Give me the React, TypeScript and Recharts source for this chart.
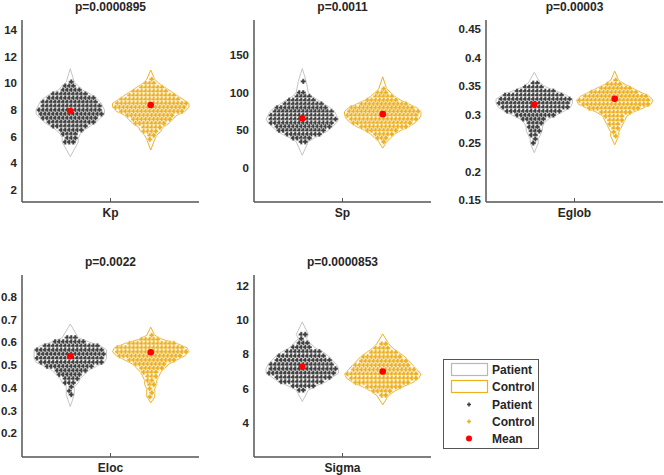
import React from "react";
import { ScatterChart, Scatter, XAxis, YAxis } from "recharts";

const FONT = '"Liberation Sans", Arial, Helvetica, sans-serif';
const PATIENT = "#404040";
const PATIENT_EDGE = "#c4c4c4";
const CONTROL = "#EDB120";
const MEAN = "#ff0000";
const AXIS = "#555555";
const TEXT = "#262626";

const panelNames = ["Kp", "Sp", "Eglob", "Eloc", "Sigma"];
const pValues = ["p=0.0000895", "p=0.0011", "p=0.00003", "p=0.0022", "p=0.0000853"];

const yDomains: [number, number][] = [
  [1.1, 14.75],
  [-45, 196.5],
  [0.1465, 0.4658],
  [0.096, 0.895],
  [2.0, 12.62],
];
const yTicks = [
  [2, 4, 6, 8, 10, 12, 14],
  [0, 50, 100, 150],
  [0.15, 0.2, 0.25, 0.3, 0.35, 0.4, 0.45],
  [0.2, 0.3, 0.4, 0.5, 0.6, 0.7, 0.8],
  [4, 6, 8, 10, 12],
];

const patientMeans = [7.93, 65.9, 0.3175, 0.539, 7.27];
const controlMeans = [8.38, 71.6, 0.3275, 0.556, 6.99];

// violin extent (kde tails) [low, high]
const patientRanges: [number, number][] = [
  [4.5, 11.1],
  [17, 132],
  [0.233, 0.374],
  [0.317, 0.68],
  [5.24, 9.88],
];
const controlRanges: [number, number][] = [
  [5.0, 11.0],
  [26.5, 121],
  [0.247, 0.376],
  [0.334, 0.666],
  [5.05, 9.18],
];

// swarm rows: [value, number of subjects at that level]
const kpPatient: [number, number][] = [
  [10.1, 1], [9.8, 3], [9.5, 5], [9.2, 9], [8.9, 12], [8.6, 14], [8.3, 15], [8.0, 16],
  [7.7, 16], [7.4, 14], [7.1, 12], [6.8, 9], [6.5, 6], [6.2, 4], [5.9, 3], [5.6, 3],
];
const kpControl: [number, number][] = [
  [10.3, 1], [10.0, 3], [9.7, 6], [9.4, 9], [9.1, 12], [8.8, 15], [8.5, 18], [8.2, 18],
  [7.9, 16], [7.6, 12], [7.3, 10], [7.0, 8], [6.7, 5], [6.4, 4], [6.1, 2], [5.8, 1],
];
const spPatient: [number, number][] = [
  [115, 1], [100, 2], [95, 4], [90, 7], [85, 10], [80, 13], [75, 15], [70, 16],
  [65, 17], [60, 16], [55, 14], [50, 12], [45, 9], [40, 5], [35, 2],
];
const spControl: [number, number][] = [
  [105, 1], [100, 3], [95, 5], [90, 8], [85, 12], [80, 16], [75, 18], [70, 18],
  [65, 17], [60, 15], [55, 12], [50, 8], [45, 5], [40, 3], [35, 1],
];
const eglobPatient: [number, number][] = [
  [0.355, 2], [0.348, 5], [0.341, 10], [0.334, 15], [0.327, 18], [0.32, 18], [0.313, 17],
  [0.306, 14], [0.299, 10], [0.292, 6], [0.285, 4], [0.278, 3], [0.271, 3], [0.264, 2],
  [0.257, 1], [0.25, 1],
];
const eglobControl: [number, number][] = [
  [0.36, 1], [0.353, 4], [0.346, 8], [0.339, 12], [0.332, 16], [0.325, 18], [0.318, 17],
  [0.311, 13], [0.304, 8], [0.297, 5], [0.29, 4], [0.283, 3], [0.276, 2], [0.269, 1],
  [0.262, 1],
];
const elocPatient: [number, number][] = [
  [0.62, 3], [0.602, 8], [0.584, 14], [0.566, 17], [0.548, 17], [0.53, 17], [0.512, 16],
  [0.494, 12], [0.476, 8], [0.458, 6], [0.44, 4], [0.422, 3], [0.404, 1], [0.386, 1],
  [0.37, 1],
];
const elocControl: [number, number][] = [
  [0.63, 1], [0.612, 5], [0.594, 12], [0.576, 17], [0.558, 18], [0.54, 16], [0.522, 12],
  [0.504, 8], [0.486, 6], [0.468, 4], [0.45, 3], [0.432, 2], [0.414, 2], [0.396, 1],
  [0.378, 1], [0.36, 1],
];
const sigmaPatient: [number, number][] = [
  [9.15, 2], [8.9, 1], [8.65, 3], [8.4, 5], [8.15, 9], [7.9, 12], [7.65, 14], [7.4, 16],
  [7.15, 17], [6.9, 17], [6.65, 14], [6.4, 11], [6.15, 6], [5.9, 2],
];
const sigmaControl: [number, number][] = [
  [8.6, 2], [8.35, 4], [8.1, 7], [7.85, 10], [7.6, 12], [7.35, 14], [7.1, 16], [6.85, 18],
  [6.6, 17], [6.35, 14], [6.1, 9], [5.85, 5], [5.6, 2],
];

const patientRows = [kpPatient, spPatient, eglobPatient, elocPatient, sigmaPatient];
const controlRows = [kpControl, spControl, eglobControl, elocControl, sigmaControl];

// layout
const PLOT_W = 177;
const PLOT_H = 182;
const AXIS_W = 40;
const TOP = 20;
const BOTTOM = 20;
const STEP_X = 0.05;
const panelPos = [
  { left: 22, top: 20 },
  { left: 254, top: 20 },
  { left: 486, top: 20 },
  { left: 22, top: 275 },
  { left: 254, top: 275 },
];

type Pt = { x: number; y: number };

// beeswarm layout: spread each row around the group centre, alternate rows staggered
function swarm(rows: [number, number][], center: number): Pt[] {
  const pts: Pt[] = [];
  rows.forEach(([v, n], r) => {
    const shift = (r % 2 === 0 ? 0.25 : -0.25) * STEP_X;
    for (let i = 0; i < n; i++) pts.push({ x: center + shift + (i - (n - 1) / 2) * STEP_X, y: v });
  });
  return pts;
}

function outline(rows: [number, number][], center: number, range: [number, number]): Pt[] {
  const sorted = [...rows].sort((a, b) => a[0] - b[0]);
  const hw = (n: number) => ((n - 1) / 2) * STEP_X + 0.05;
  const right = sorted.map(([v, n]) => ({ x: center + hw(n), y: v }));
  const left = [...sorted].reverse().map(([v, n]) => ({ x: center - hw(n), y: v }));
  return [
    { x: center, y: range[0] },
    ...right,
    { x: center, y: range[1] },
    ...left,
    { x: center, y: range[0] },
  ];
}

const noShape = () => <g />;

const plus = (color: string) => (props: any) => {
  const { cx, cy } = props;
  const a = 2.7;
  const t = 1.2;
  return (
    <path
      d={`M${cx - t},${cy - a}H${cx + t}V${cy - t}H${cx + a}V${cy + t}H${cx + t}V${cy + a}H${cx - t}V${cy + t}H${cx - a}V${cy - t}H${cx - t}Z`}
      fill={color}
      stroke="#ffffff"
      strokeWidth={0.45}
    />
  );
};

const meanDot = (props: any) => <circle cx={props.cx} cy={props.cy} r={3.3} fill={MEAN} />;

function XTick(props: any) {
  const { x, y, label } = props;
  return (
    <g>
      <line x1={x} x2={x} y1={y} y2={y - 4} stroke={AXIS} />
      <text x={x} y={y + 15} textAnchor="middle" fill={TEXT} fontSize={12} fontWeight="bold" fontFamily={FONT}>
        {label}
      </text>
    </g>
  );
}

function Panel({ i }: { i: number }) {
  const { left, top } = panelPos[i];
  return (
    <>
      <div
        style={{
          position: "absolute",
          left,
          top: top - 21,
          width: PLOT_W,
          textAlign: "center",
          font: `bold 12px ${FONT}`,
          lineHeight: "16px",
          color: TEXT,
        }}
      >
        {pValues[i]}
      </div>
      <div style={{ position: "absolute", left: left - AXIS_W, top: top - TOP }}>
        <ScatterChart
          width={AXIS_W + PLOT_W + 5}
          height={TOP + PLOT_H + BOTTOM}
          margin={{ top: TOP, right: 5, bottom: 0, left: 0 }}
        >
          <XAxis
            type="number"
            dataKey="x"
            domain={[0.4, 2.6]}
            ticks={[1.5]}
            interval={0}
            allowDataOverflow
            height={BOTTOM}
            tickSize={0}
            tickMargin={0}
            tickLine={false}
            axisLine={{ stroke: AXIS, strokeWidth: 1.5 }}
            tick={(p: any) => <XTick {...p} label={panelNames[i]} />}
          />
          <YAxis
            type="number"
            dataKey="y"
            domain={yDomains[i]}
            ticks={yTicks[i]}
            interval={0}
            allowDataOverflow
            width={AXIS_W}
            tickSize={0}
            tickMargin={5}
            tickLine={false}
            axisLine={{ stroke: AXIS, strokeWidth: 1.5 }}
            tick={{ fill: TEXT, fontSize: 11.5, fontWeight: "bold", fontFamily: FONT }}
          />
          <Scatter
            data={outline(patientRows[i], 1, patientRanges[i])}
            line={{ stroke: PATIENT_EDGE, strokeWidth: 1 }}
            fill="none"
            shape={noShape}
            isAnimationActive={false}
          />
          <Scatter
            data={outline(controlRows[i], 2, controlRanges[i])}
            line={{ stroke: CONTROL, strokeWidth: 1 }}
            fill="none"
            shape={noShape}
            isAnimationActive={false}
          />
          <Scatter data={swarm(patientRows[i], 1)} shape={plus(PATIENT)} isAnimationActive={false} />
          <Scatter data={swarm(controlRows[i], 2)} shape={plus(CONTROL)} isAnimationActive={false} />
          <Scatter
            data={[
              { x: 1, y: patientMeans[i] },
              { x: 2, y: controlMeans[i] },
            ]}
            shape={meanDot}
            isAnimationActive={false}
          />
        </ScatterChart>
      </div>
    </>
  );
}

function LegendBox() {
  const textProps = { fill: TEXT, fontSize: 12, fontWeight: "bold", fontFamily: FONT, dominantBaseline: "central" as const };
  return (
    <svg style={{ position: "absolute", left: 443, top: 359 }} width={97} height={91}>
      <rect x={0.5} y={0.5} width={95} height={89} fill="#fff" stroke={AXIS} strokeWidth={1} />
      <rect x={8.5} y={4.5} width={36} height={12} fill="#fff" stroke="#b8b8b8" strokeWidth={1.2} />
      <rect x={8.5} y={21.5} width={36} height={12} fill="#fff" stroke={CONTROL} strokeWidth={1.2} />
      <path d="M25.2,43.5H26.8V44.7H28V46.3H26.8V47.5H25.2V46.3H24V44.7H25.2Z" fill={PATIENT} />
      <path d="M25.2,60.5H26.8V61.7H28V63.3H26.8V64.5H25.2V63.3H24V61.7H25.2Z" fill={CONTROL} />
      <circle cx={26} cy={79.5} r={3} fill={MEAN} />
      <text x={49} y={11} {...textProps}>Patient</text>
      <text x={49} y={28} {...textProps}>Control</text>
      <text x={49} y={45.5} {...textProps}>Patient</text>
      <text x={49} y={62.5} {...textProps}>Control</text>
      <text x={49} y={79.5} {...textProps}>Mean</text>
    </svg>
  );
}

export default function App() {
  return (
    <div style={{ position: "absolute", left: 0, top: 0, width: 664, height: 475, background: "#fff" }}>
      {panelNames.map((_, i) => (
        <Panel key={i} i={i} />
      ))}
      <LegendBox />
    </div>
  );
}
